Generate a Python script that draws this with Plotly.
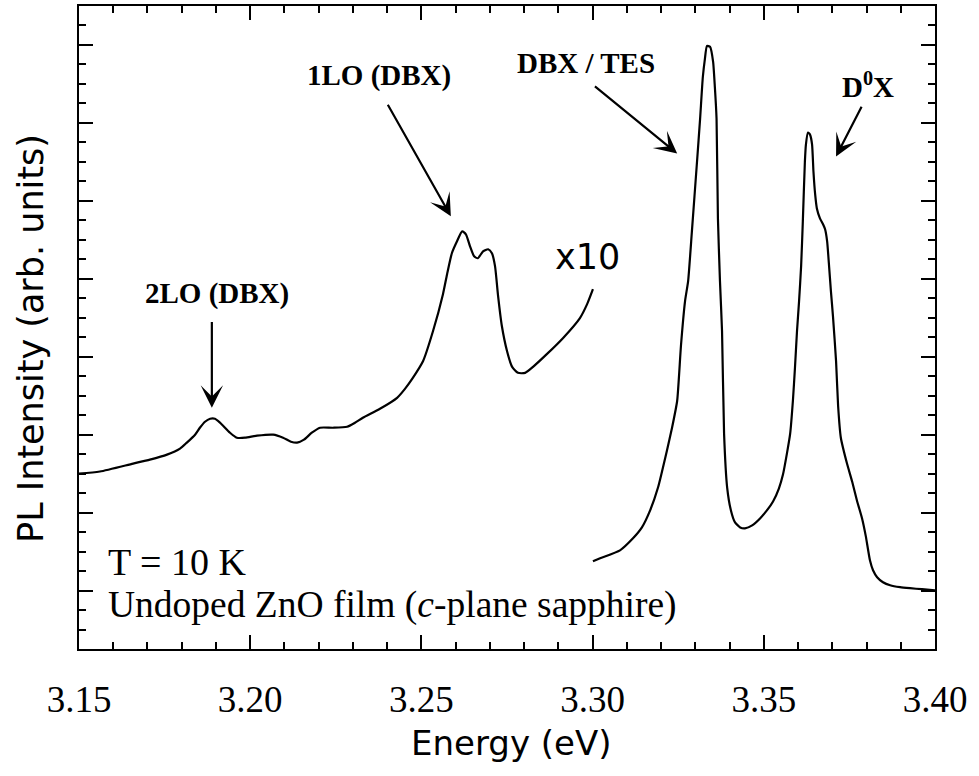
import plotly.graph_objects as go

# Low-energy part of the spectrum (3.15-3.30 eV), shown magnified x10
energy_x10 = [3.1500, 3.1561, 3.1658, 3.1707, 3.1757, 3.1795, 3.1815, 3.1839, 3.1853, 3.1868,
              3.1883, 3.1897, 3.1912, 3.1941, 3.1961, 3.1985, 3.2020, 3.2067, 3.2096, 3.2119,
              3.2137, 3.2157, 3.2180, 3.2204, 3.2242, 3.2283, 3.2306, 3.2329, 3.2379, 3.2429,
              3.2452, 3.2475, 3.2505, 3.2534, 3.2563, 3.2575, 3.2589, 3.2604, 3.2619, 3.2630,
              3.2642, 3.2654, 3.2665, 3.2680, 3.2695, 3.2706, 3.2715, 3.2724, 3.2735, 3.2750,
              3.2765, 3.2782, 3.2803, 3.2826, 3.2867, 3.2914, 3.2963, 3.2984, 3.3001]
intensity_x10 = [1.501, 1.527, 1.629, 1.680, 1.744, 1.821, 1.898, 2.000, 2.089, 2.166,
                 2.205, 2.205, 2.153, 2.025, 1.961, 1.961, 1.987, 2.000, 1.961, 1.910,
                 1.898, 1.936, 2.025, 2.089, 2.089, 2.102, 2.153, 2.217, 2.332, 2.473,
                 2.588, 2.729, 2.946, 3.330, 3.803, 4.059, 4.328, 4.481, 4.609, 4.571,
                 4.417, 4.289, 4.264, 4.353, 4.379, 4.328, 4.162, 3.778, 3.394, 3.074,
                 2.870, 2.793, 2.793, 2.870, 3.036, 3.241, 3.496, 3.675, 3.867]

# Near-band-edge part of the spectrum (3.30-3.40 eV), unscaled
energy_main = [3.3001, 3.3022, 3.3080, 3.3118, 3.3144, 3.3168, 3.3191, 3.3217, 3.3232, 3.3247,
               3.3258, 3.3270, 3.3279, 3.3290, 3.3305, 3.3314, 3.3322, 3.3328, 3.3334, 3.3343,
               3.3352, 3.3357, 3.3362, 3.3366, 3.3372, 3.3378, 3.3384, 3.3393, 3.3404, 3.3416,
               3.3431, 3.3445, 3.3466, 3.3489, 3.3509, 3.3527, 3.3544, 3.3556, 3.3568, 3.3577,
               3.3585, 3.3591, 3.3597, 3.3603, 3.3609, 3.3614, 3.3620, 3.3623, 3.3629, 3.3635,
               3.3641, 3.3645, 3.3650, 3.3655, 3.3664, 3.3673, 3.3679, 3.3685, 3.3690, 3.3696,
               3.3702, 3.3711, 3.3717, 3.3725, 3.3743, 3.3758, 3.3772, 3.3787, 3.3798, 3.3810,
               3.3819, 3.3831, 3.3848, 3.3869, 3.3898, 3.3927, 3.3962, 3.4000]
intensity_main = [0.375, 0.414, 0.516, 0.670, 0.810, 1.028, 1.322, 1.795, 2.089, 2.435,
                  3.138, 3.714, 3.970, 4.609, 5.505, 6.055, 6.592, 6.822, 6.988, 6.976,
                  6.784, 6.464, 6.055, 4.776, 3.970, 3.330, 2.013, 1.322, 1.028, 0.874,
                  0.810, 0.798, 0.836, 0.925, 1.028, 1.143, 1.309, 1.488, 1.770, 2.013,
                  2.435, 2.857, 3.330, 3.714, 4.162, 4.737, 5.505, 5.722, 5.876, 5.850,
                  5.722, 5.377, 5.082, 4.903, 4.776, 4.699, 4.635, 4.481, 4.200, 3.842,
                  3.522, 2.946, 2.371, 1.961, 1.629, 1.399, 1.156, 0.925, 0.695, 0.388,
                  0.260, 0.171, 0.107, 0.068, 0.043, 0.030, 0.017, 0.004]

x_tick_vals = [3.15, 3.20, 3.25, 3.30, 3.35, 3.40]
x_tick_text = ["3.15", "3.20", "3.25", "3.30", "3.35", "3.40"]
y_tick_vals = [0, 1, 2, 3, 4, 5, 6, 7]

# Peak labels: text, label position (E, I), arrow tail (E, I), arrow tip (E, I)
peak_labels = ["2LO (DBX)", "1LO (DBX)", "DBX / TES", "D<sup>0</sup>X"]
label_pos = [(3.1904, 3.816), (3.2375, 6.605), (3.2981, 6.771), (3.3803, 6.490)]
arrow_tail = [(3.1888, 3.484), (3.2397, 6.272), (3.3001, 6.490), (3.3790, 6.246)]
arrow_tip = [(3.1888, 2.345), (3.2586, 4.801), (3.3247, 5.607), (3.3711, 5.569)]

BLACK = "black"
SERIF = "Liberation Serif"
SANS = "DejaVu Sans"

fig = go.Figure()
fig.add_trace(go.Scatter(x=energy_x10, y=intensity_x10, mode="lines",
                         line=dict(color=BLACK, width=2.2, shape="spline", smoothing=0.6),
                         showlegend=False))
fig.add_trace(go.Scatter(x=energy_main, y=intensity_main, mode="lines",
                         line=dict(color=BLACK, width=2.2, shape="spline", smoothing=0.5),
                         showlegend=False))

annotations = []
for text, (lx, ly), (tx, ty), (hx, hy) in zip(peak_labels, label_pos, arrow_tail, arrow_tip):
    annotations.append(dict(x=lx, y=ly, xref="x", yref="y", text="<b>" + text + "</b>",
                            showarrow=False, xanchor="center", yanchor="middle",
                            font=dict(family=SERIF, size=29, color=BLACK)))
    annotations.append(dict(x=hx, y=hy, ax=tx, ay=ty, xref="x", yref="y",
                            axref="x", ayref="y", text=" ", showarrow=True,
                            arrowhead=3, arrowsize=1.7, arrowwidth=2.2,
                            arrowcolor=BLACK, standoff=0,
                            font=dict(size=2)))

annotations.append(dict(x=3.2985, y=4.283, xref="x", yref="y", text="x10",
                        showarrow=False, xanchor="center", yanchor="middle",
                        font=dict(family=SANS, size=35, color=BLACK)))
annotations.append(dict(x=3.1579, y=0.369, xref="x", yref="y", text="T = 10 K",
                        showarrow=False, xanchor="left", yanchor="middle",
                        font=dict(family=SERIF, size=38, color=BLACK)))
annotations.append(dict(x=3.1579, y=-0.181, xref="x", yref="y",
                        text="Undoped ZnO film (<i>c</i>-plane sapphire)",
                        showarrow=False, xanchor="left", yanchor="middle",
                        font=dict(family=SERIF, size=37.5, color=BLACK)))

# Axis titles
annotations.append(dict(x=0.5053, y=-0.146, xref="paper", yref="paper",
                        text="Energy (eV)", showarrow=False,
                        xanchor="center", yanchor="middle",
                        font=dict(family=SANS, size=34, color=BLACK)))
annotations.append(dict(x=-0.0555, y=0.483, xref="paper", yref="paper",
                        text="PL Intensity (arb. units)", showarrow=False, textangle=-90,
                        xanchor="center", yanchor="middle",
                        font=dict(family=SANS, size=35, color=BLACK)))

axis_common = dict(showline=True, linewidth=2, linecolor=BLACK, mirror="ticks",
                   ticks="inside", ticklen=14, tickwidth=2, tickcolor=BLACK,
                   showgrid=False, zeroline=False)

fig.update_layout(
    width=979, height=776,
    margin=dict(l=79, r=44, t=4, b=127),
    paper_bgcolor="white", plot_bgcolor="white",
    xaxis=dict(range=[3.15, 3.40], tickvals=x_tick_vals, ticktext=x_tick_text,
               tickfont=dict(family=SERIF, size=37, color=BLACK),
               ticklabelstandoff=17,
               minor=dict(dtick=0.01, tick0=3.15, ticks="inside", ticklen=7,
                          tickwidth=2, tickcolor=BLACK, showgrid=False),
               **axis_common),
    yaxis=dict(range=[-0.75, 7.5], tickvals=y_tick_vals, showticklabels=False,
               minor=dict(dtick=0.25, tick0=0, ticks="inside", ticklen=7,
                          tickwidth=2, tickcolor=BLACK, showgrid=False),
               **axis_common),
    annotations=annotations,
)

fig.write_html("out.html")
